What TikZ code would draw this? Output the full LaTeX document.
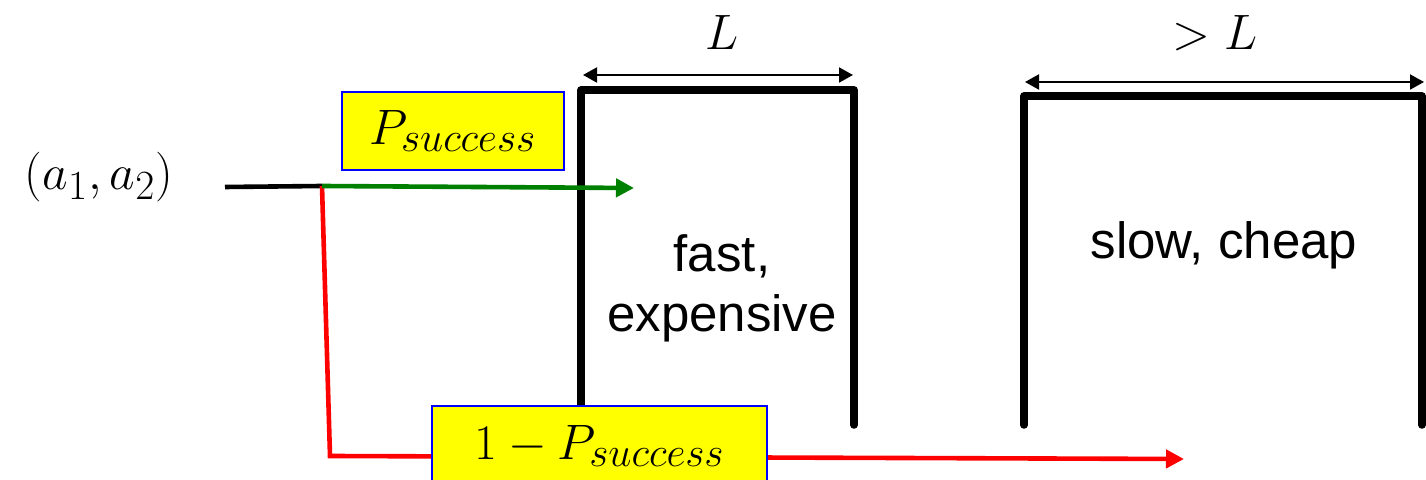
\documentclass[tikz,border=0pt]{standalone}
\usepackage{fontspec}
\setmainfont{Liberation Sans}
\usetikzlibrary{arrows.meta}
\DeclareMathSizes{26}{26}{19.5}{15}
\DeclareMathSizes{28}{28}{20}{16}
\definecolor{yel}{RGB}{255,255,0}
\definecolor{rd}{RGB}{255,0,0}
\definecolor{gr}{RGB}{0,128,0}
\definecolor{bl}{RGB}{0,0,255}
\tikzset{
  wall/.style={line width=3.8pt, line join=round, line cap=round},
  dimline/.style={line width=1pt, {Triangle[length=7pt,width=7.5pt]}-{Triangle[length=7pt,width=7.5pt]}},
  flow/.style={line width=2.3pt, -{Triangle[length=9pt,width=9pt]}},
  probbox/.style={draw=bl, line width=0.8pt, fill=yel, inner sep=0pt, font=\fontsize{26}{30}\selectfont},
  lbl/.style={inner sep=0pt, font=\fontsize{25.5}{30}\selectfont, align=center},
  mlbl/.style={inner sep=0pt, font=\fontsize{25}{30}\selectfont},
}
\begin{document}
\begin{tikzpicture}[x=0.5pt,y=-0.5pt]
\useasboundingbox (0,0) rectangle (1426,480);
\clip (0,0) rectangle (1426,480);
% coordinates
\coordinate (start) at (225,187);
\coordinate (split) at (322,186);
\coordinate (gend) at (634,188);
\coordinate (rcorner) at (330,456);
\coordinate (rend) at (1184,459);
\coordinate (b1bl) at (581,428);
\coordinate (b1tl) at (581,90);
\coordinate (b1tr) at (854,90);
\coordinate (b1br) at (854,425);
\coordinate (b2bl) at (1024,425);
\coordinate (b2tl) at (1024,96);
\coordinate (b2tr) at (1422,96);
\coordinate (b2br) at (1422,425);
\coordinate (d1l) at (583,75);
\coordinate (d1r) at (853,75);
\coordinate (d2l) at (1025,82);
\coordinate (d2r) at (1424,82);
% tube walls
\draw[wall] (b1bl) -- (b1tl) -- (b1tr) -- (b1br);
\draw[wall] (b2bl) -- (b2tl) -- (b2tr) -- (b2br);
% dimension arrows
\draw[dimline] (d1l) -- (d1r);
\draw[dimline] (d2l) -- (d2r);
\node[mlbl] (Llab) at (722,33) {$L$};
\node[mlbl] (gLlab) at (1215,33) {$>L$};
% labels
\node[lbl] (fast) at (722,288) {fast,\\expensive};
\node[lbl] (slow) at (1224,245) {slow, cheap};
\node[mlbl, font=\fontsize{28}{30}\selectfont] (inp) at (99,177) {$(a_1,a_2)$};
% flows
\draw[line width=2.3pt] (start) -- (split);
\draw[flow, rd] (split) -- (rcorner) -- (rend);
\draw[flow, gr] (split) -- (gend);
% probability boxes
\node[probbox, minimum width=111pt, minimum height=39pt] (ps) at (453,131) {$P_{success}$};
\node[probbox, minimum width=167.5pt, minimum height=40pt, font=\fontsize{28}{30}\selectfont] (pf) at (599.5,446) {$1-P_{success}$};
\end{tikzpicture}
\end{document}
